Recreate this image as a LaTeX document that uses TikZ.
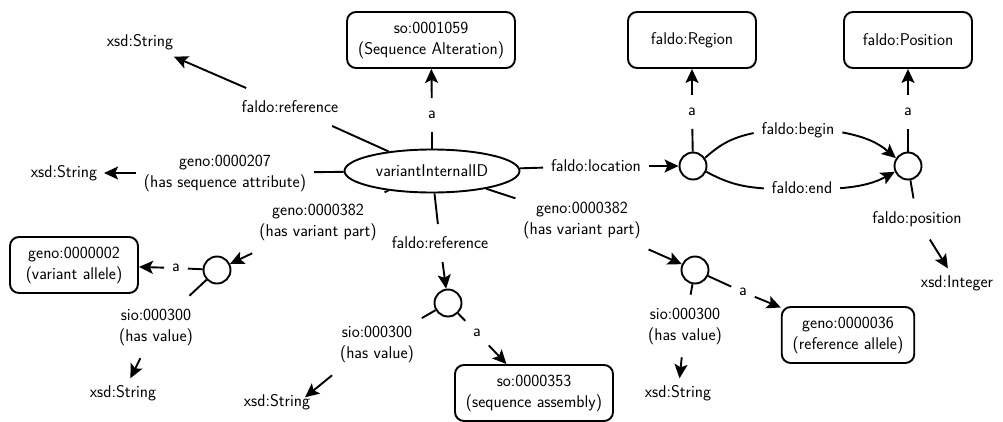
\documentclass[tikz,border=0pt]{standalone}
\usetikzlibrary{shapes.geometric,arrows.meta}
\begin{document}
\begin{tikzpicture}[x=1pt,y=-1pt,
  font=\sffamily\fontsize{17}{21}\selectfont,
  line width=1.9pt,
  box/.style={draw, rounded corners=9pt, minimum width=128pt, minimum height=56pt, inner xsep=11pt, align=center, font=\sffamily\fontsize{17}{21}\selectfont},
  circ/.style={draw, circle, minimum size=27pt, inner sep=0pt},
  lbl/.style={inner xsep=7pt, inner ysep=12pt, align=center},
  val/.style={inner sep=6pt},
  arr/.style={-{Stealth[length=14pt,width=13pt,inset=3pt]}}
]
\path[use as bounding box] (0,0) rectangle (1003,421);
% main
\node[draw, ellipse, minimum width=175pt, minimum height=43pt, inner sep=0pt] (V) at (432,171) {variantInternalID};
\node[box] (B1) at (431,40) {so:0001059\\(Sequence Alteration)};
\node[lbl] (la1) at (432,115) {a};
\node[val] (X1) at (140,42) {xsd:String};
\node[lbl] (lref1) at (290,107) {faldo:reference};
\node[val] (X2) at (64,173) {xsd:String};
\node[lbl] (l207) at (225,173) {geno:0000207\\(has sequence attribute)};
\node[lbl] (lloc) at (596,166) {faldo:location};
\node[circ] (C1) at (693,166) {};
\node[box] (Reg) at (692,40) {faldo:Region};
\node[lbl] (la2) at (692,112) {a};
\node[circ] (C2) at (908,166) {};
\node[box] (Pos) at (908,40) {faldo:Position};
\node[lbl] (la3) at (908,112) {a};
\node[lbl] (lbeg) at (798,130) {faldo:begin};
\node[lbl] (lend) at (802,188) {faldo:end};
\node[lbl] (lpos) at (917,219) {faldo:position};
\node[val] (XI) at (957,283) {xsd:Integer};
% left variant part
\node[lbl] (l382L) at (318,222) {geno:0000382\\(has variant part)};
\node[circ] (C3) at (217,270) {};
\node[box] (G2) at (74,265) {geno:0000002\\(variant allele)};
\node[lbl] (la4) at (176,268) {a};
\node[lbl] (lhv1) at (156,327) {sio:000300\\(has value)};
\node[val] (X3) at (123,393) {xsd:String};
% reference
\node[lbl] (lref2) at (440,243) {faldo:reference};
\node[circ] (C4) at (448,303) {};
\node[lbl] (lhv2) at (377,344) {sio:000300\\(has value)};
\node[val] (X4) at (277,402) {xsd:String};
\node[lbl] (la5) at (477,333) {a};
\node[box] (SA) at (534,393) {so:0000353\\(sequence assembly)};
% right variant part
\node[lbl] (l382R) at (582,220) {geno:0000382\\(has variant part)};
\node[circ] (C5) at (695,270) {};
\node[lbl] (la6) at (743,292) {a};
\node[box] (G36) at (848,335) {geno:0000036\\(reference allele)};
\node[lbl] (lhv3) at (685,326) {sio:000300\\(has value)};
\node[val] (X5) at (678,393) {xsd:String};
% edges
\draw (V) -- (la1); \draw[arr] (la1) -- (B1);
\draw (V) -- (lref1); \draw[arr] (lref1) -- (X1);
\draw (V) -- (l207); \draw[arr] (l207) -- (X2);
\draw (V) -- (lloc); \draw[arr] (lloc) -- (C1);
\draw (C1) -- (la2); \draw[arr] (la2) -- (Reg);
\draw (C1) to[bend left=15] (lbeg); \draw[arr] (lbeg) to[bend left=15] (C2);
\draw (C1) to[bend right=12] (lend); \draw[arr] (lend) to[bend right=12] (C2);
\draw (C2) -- (la3); \draw[arr] (la3) -- (Pos);
\draw (C2) -- (lpos); \draw[arr] (lpos) -- (XI);
\draw (V) -- (l382L); \draw[arr] (l382L) -- (C3);
\draw (C3) -- (la4); \draw[arr] (la4) -- (G2);
\draw (C3) -- (lhv1); \draw[arr] (lhv1) -- (X3);
\draw (V) -- (lref2); \draw[arr] (lref2) -- (C4);
\draw (C4) -- (lhv2); \draw[arr] (lhv2.south west) -- ([xshift=-12pt,yshift=-10pt]X4.north east);
\draw (C4) -- (la5); \draw[arr] (la5) -- (SA);
\draw (V) -- (l382R); \draw[arr] (l382R) -- (C5);
\draw (C5) -- (la6); \draw[arr] (la6) -- (G36);
\draw (C5) -- (lhv3); \draw[arr] (lhv3) -- (X5);
\end{tikzpicture}
\end{document}
